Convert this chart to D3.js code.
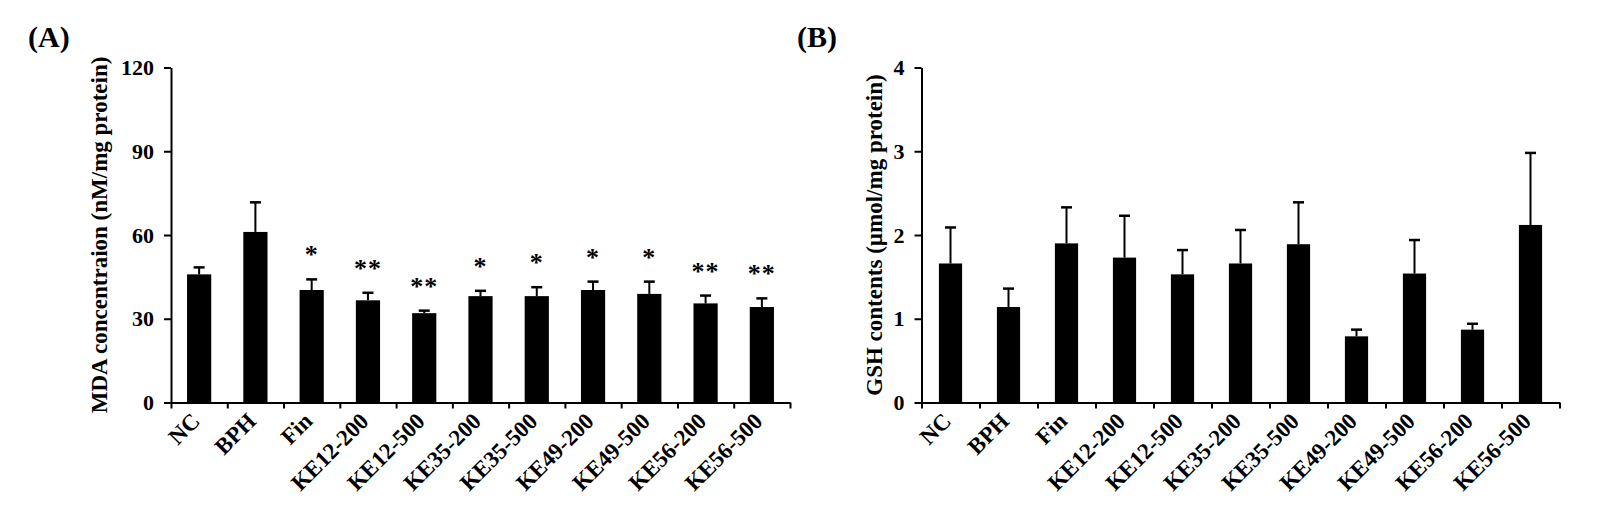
<!DOCTYPE html>
<html>
<head>
<meta charset="utf-8">
<script src="https://cdn.jsdelivr.net/npm/d3@7"></script>
<style>
  body { margin: 0; background: #fff; }
  text { font-family: "Liberation Serif", "Times New Roman", serif; font-weight: bold; fill: #000; }
</style>
</head>
<body>
<svg id="chart" width="1599" height="517"></svg>
<script>
// groups on the x axis (same for both panels)
const groups = ["NC", "BPH", "Fin", "KE12-200", "KE12-500", "KE35-200", "KE35-500",
                "KE49-200", "KE49-500", "KE56-200", "KE56-500"];

// (A) MDA
const mdaMean = [45.9, 61.1, 40.3, 36.6, 32.0, 38.1, 38.1, 40.3, 38.9, 35.5, 34.2];
const mdaSD   = [2.5, 10.6, 3.8, 2.7, 0.9, 1.9, 3.2, 3.0, 4.4, 2.8, 3.1];
const mdaSig  = ["", "", "*", "**", "**", "*", "*", "*", "*", "**", "**"];
const mdaTicks = [0, 30, 60, 90, 120];

// (B) GSH
const gshMean = [1.66, 1.14, 1.90, 1.73, 1.53, 1.66, 1.89, 0.79, 1.54, 0.87, 2.12];
const gshSD   = [0.43, 0.22, 0.43, 0.50, 0.29, 0.40, 0.50, 0.08, 0.40, 0.07, 0.86];
const gshSig  = ["", "", "", "", "", "", "", "", "", "", ""];
const gshTicks = [0, 1, 2, 3, 4];

let svg = d3.select("#chart");

function panel(opt) {
    let g = svg.append("g");
    let data = groups.map(function(d, i) {
        return {name: d, mean: opt.mean[i], sd: opt.sd[i], sig: opt.sig[i]};
    });

    let x = d3.scaleBand()
              .domain(groups)
              .range([opt.left, opt.right])
              .paddingInner(opt.pad)
              .paddingOuter(opt.pad / 2);
    // tick marks sit on the band edges
    let xEdge = d3.scaleLinear().domain([0, groups.length]).range([opt.left, opt.right]);
    let y = d3.scaleLinear().domain([0, opt.ticks[opt.ticks.length - 1]]).range([402.5, 67.5]);

    // bars
    g.selectAll("rect.bar")
     .data(data)
     .enter()
     .append("rect")
     .attr("x", d => x(d.name))
     .attr("width", x.bandwidth())
     .attr("y", d => y(d.mean))
     .attr("height", d => y(0) - y(d.mean))
     .attr("fill", "#000");

    // error bars (upper only)
    let err = g.selectAll("g.err").data(data).enter().append("g");
    err.append("line")
       .attr("x1", d => x(d.name) + x.bandwidth() / 2)
       .attr("x2", d => x(d.name) + x.bandwidth() / 2)
       .attr("y1", d => y(d.mean))
       .attr("y2", d => y(d.mean + d.sd))
       .attr("stroke", "#000").attr("stroke-width", 2);
    err.append("line")
       .attr("x1", d => x(d.name) + x.bandwidth() / 2 - 5.5)
       .attr("x2", d => x(d.name) + x.bandwidth() / 2 + 5.5)
       .attr("y1", d => y(d.mean + d.sd))
       .attr("y2", d => y(d.mean + d.sd))
       .attr("stroke", "#000").attr("stroke-width", 2.5);

    // significance stars
    g.selectAll("text.sig")
     .data(data.filter(d => d.sig))
     .enter()
     .append("text")
     .attr("x", d => x(d.name) + x.bandwidth() / 2)
     .attr("y", d => y(d.mean + d.sd) - 16)
     .attr("text-anchor", "middle")
     .style("font-size", "26px")
     .style("letter-spacing", "1px")
     .text(d => d.sig);

    // y axis
    let yAxis = g.append("g")
                 .attr("transform", `translate(${opt.left},0)`)
                 .call(d3.axisLeft(y).tickValues(opt.ticks).tickFormat(d3.format("d"))
                         .tickSize(7).tickSizeOuter(0).tickPadding(10));
    yAxis.attr("font-family", null).attr("font-size", null);
    yAxis.selectAll("path, line").attr("stroke", "#000").attr("stroke-width", 2);
    yAxis.selectAll("text").style("font-size", "22px");

    // x axis line with edge ticks
    let xAxis = g.append("g")
                 .attr("transform", `translate(0,${y(0)})`)
                 .call(d3.axisBottom(xEdge).tickValues(d3.range(groups.length + 1))
                         .tickFormat("").tickSize(6).tickSizeOuter(0));
    xAxis.selectAll("path, line").attr("stroke", "#000").attr("stroke-width", 2);

    // x labels, rotated
    g.selectAll("text.xl")
     .data(groups)
     .enter()
     .append("text")
     .attr("transform", d => `translate(${x(d) + x.bandwidth() / 2 + 2},${y(0) + 20}) rotate(-45)`)
     .attr("text-anchor", "end")
     .style("font-size", "23px")
     .text(d => d);

    // y title
    g.append("text")
     .attr("transform", `translate(${opt.titleX},${(y(0) + y(opt.ticks[opt.ticks.length - 1])) / 2}) rotate(-90)`)
     .attr("text-anchor", "middle")
     .style("font-size", "23px")
     .text(opt.title);

    // panel letter
    g.append("text")
     .attr("x", opt.letterX)
     .attr("y", 47)
     .style("font-size", "30px")
     .text(opt.letter);
}

panel({left: 171, right: 790, pad: 0.57, mean: mdaMean, sd: mdaSD, sig: mdaSig, ticks: mdaTicks,
       title: "MDA concentraion (nM/mg protein)", titleX: 107, letter: "(A)", letterX: 28});
panel({left: 921.5, right: 1559.5, pad: 0.6, mean: gshMean, sd: gshSD, sig: gshSig, ticks: gshTicks,
       title: "GSH contents (µmol/mg protein)", titleX: 882, letter: "(B)", letterX: 797});
</script>
</body>
</html>
